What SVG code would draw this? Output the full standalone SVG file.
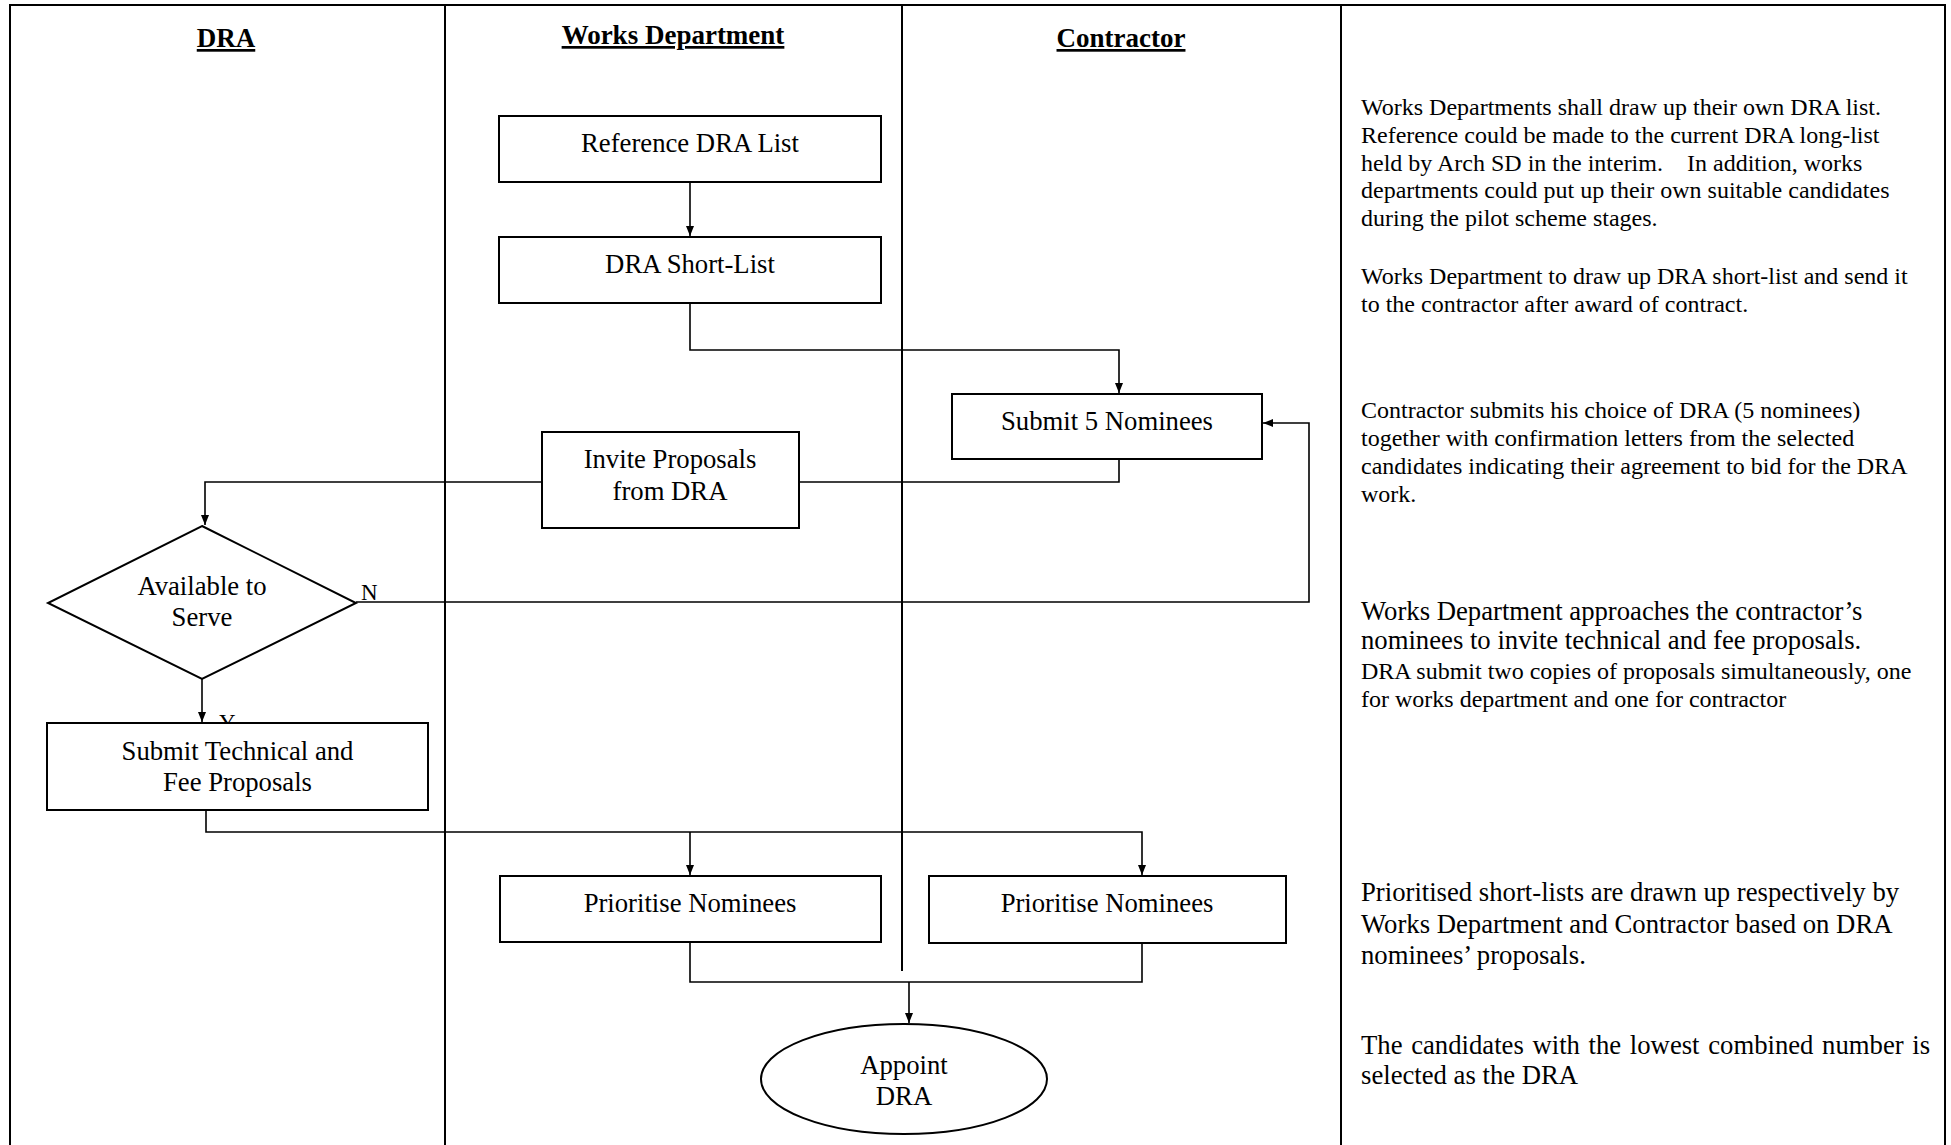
<svg xmlns="http://www.w3.org/2000/svg" width="1951" height="1145" viewBox="0 0 1951 1145">
<style>
text{font-family:"Liberation Serif","Times New Roman",serif;fill:#000}
.hd{font-size:27px;font-weight:bold;text-decoration:underline;text-anchor:middle}
.nt{font-size:26.7px;text-anchor:middle}
.box{fill:#fff;stroke:#000;stroke-width:2}
.lane{stroke:#000;stroke-width:2;fill:none}
.cn{stroke:#000;stroke-width:1.6;fill:none}
.s24{font-size:24px}
.s27{font-size:26.7px}
.lbl{font-size:23px}
</style>
<defs>
<marker id="ah" viewBox="0 0 10 10" refX="10" refY="5" markerWidth="10" markerHeight="10" markerUnits="userSpaceOnUse" orient="auto">
<path d="M0,1 L10,5 L0,9 Z" fill="#000"/>
</marker>
</defs>
<rect width="1951" height="1145" fill="#fff"/>
<g id="lanes">
<path class="lane" d="M10,1145 V5 H1945 V1145"/>
<line class="lane" x1="445" y1="5" x2="445" y2="1145"/>
<line class="lane" x1="902" y1="5" x2="902" y2="971"/>
<line class="lane" x1="1341" y1="5" x2="1341" y2="1145"/>
</g>
<g id="headers">
<text class="hd" x="226" y="47">DRA</text>
<text class="hd" x="673" y="44">Works Department</text>
<text class="hd" x="1121" y="47">Contractor</text>
</g>
<g id="labels">
<text class="lbl" x="361" y="600">N</text>
<text class="lbl" x="219" y="730">Y</text>
</g>
<g id="connectors">
<path class="cn" d="M690,182 V236" marker-end="url(#ah)"/>
<path class="cn" d="M690,303 V350 H1119 V393" marker-end="url(#ah)"/>
<path class="cn" d="M1119,459 V482 H799"/>
<path class="cn" d="M542,482 H205 V525" marker-end="url(#ah)"/>
<path class="cn" d="M356,602 H1309 V423 H1263" marker-end="url(#ah)"/>
<path class="cn" d="M202,679 V722" marker-end="url(#ah)"/>
<path class="cn" d="M206,810 V832 H1142 V875" marker-end="url(#ah)"/>
<path class="cn" d="M690,832 V875" marker-end="url(#ah)"/>
<path class="cn" d="M690,942 V982 H1142 V943"/>
<path class="cn" d="M909,982 V1023" marker-end="url(#ah)"/>
</g>
<g id="n-reference">
<rect class="box" x="499" y="116" width="382" height="66"/>
<text class="nt" x="690" y="152">Reference DRA List</text>
</g>
<g id="n-shortlist">
<rect class="box" x="499" y="237" width="382" height="66"/>
<text class="nt" x="690" y="273">DRA Short-List</text>
</g>
<g id="n-submit5">
<rect class="box" x="952" y="394" width="310" height="65"/>
<text class="nt" x="1107" y="430">Submit 5 Nominees</text>
</g>
<g id="n-invite">
<rect class="box" x="542" y="432" width="257" height="96"/>
<text class="nt" x="670" y="468">Invite Proposals</text>
<text class="nt" x="670" y="500">from DRA</text>
</g>
<g id="n-available">
<path class="box" d="M202,526 L356,603 L202,679 L48,603 Z"/>
<text class="nt" x="202" y="595">Available to</text>
<text class="nt" x="202" y="626">Serve</text>
</g>
<g id="n-submittech">
<rect class="box" x="47" y="723" width="381" height="87"/>
<text class="nt" x="237.5" y="760">Submit Technical and</text>
<text class="nt" x="237.5" y="791">Fee Proposals</text>
</g>
<g id="n-prior1">
<rect class="box" x="500" y="876" width="381" height="66"/>
<text class="nt" x="690" y="912">Prioritise Nominees</text>
</g>
<g id="n-prior2">
<rect class="box" x="929" y="876" width="357" height="67"/>
<text class="nt" x="1107" y="912">Prioritise Nominees</text>
</g>
<g id="n-appoint">
<ellipse class="box" cx="904" cy="1079" rx="143" ry="55"/>
<text class="nt" x="904" y="1074">Appoint</text>
<text class="nt" x="904" y="1105">DRA</text>
</g>
<g id="notes">
<text class="s24" x="1361" y="115">Works Departments shall draw up their own DRA list.</text>
<text class="s24" x="1361" y="143">Reference could be made to the current DRA long-list</text>
<text class="s24" x="1361" y="171">held by Arch SD in the interim.<tspan x="1687">In addition, works</tspan></text>
<text class="s24" x="1361" y="198">departments could put up their own suitable candidates</text>
<text class="s24" x="1361" y="226">during the pilot scheme stages.</text>
<text class="s24" x="1361" y="284">Works Department to draw up DRA short-list and send it</text>
<text class="s24" x="1361" y="312">to the contractor after award of contract.</text>
<text class="s24" x="1361" y="418">Contractor submits his choice of DRA (5 nominees)</text>
<text class="s24" x="1361" y="446">together with confirmation letters from the selected</text>
<text class="s24" x="1361" y="474">candidates indicating their agreement to bid for the DRA</text>
<text class="s24" x="1361" y="502">work.</text>
<text class="s27" x="1361" y="620">Works Department approaches the contractor’s</text>
<text class="s27" x="1361" y="649">nominees to invite technical and fee proposals.</text>
<text class="s24" x="1361" y="679">DRA submit two copies of proposals simultaneously, one</text>
<text class="s24" x="1361" y="707">for works department and one for contractor</text>
<text class="s27" x="1361" y="901">Prioritised short-lists are drawn up respectively by</text>
<text class="s27" x="1361" y="933">Works Department and Contractor based on DRA</text>
<text class="s27" x="1361" y="964">nominees’ proposals.</text>
<text class="s27" x="1361" y="1054" word-spacing="2">The candidates with the lowest combined number is</text>
<text class="s27" x="1361" y="1084">selected as the DRA</text>
</g>
</svg>
